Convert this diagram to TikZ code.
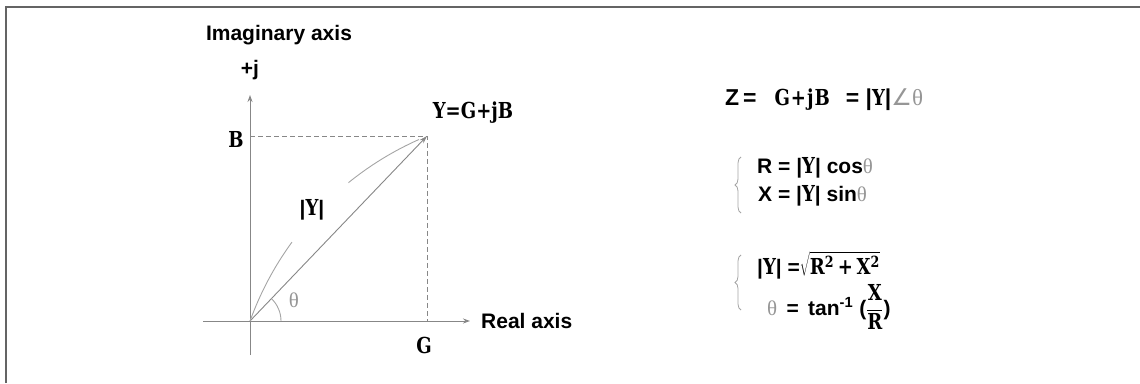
\documentclass[tikz,border=0pt]{standalone}
\usepackage{fontspec}
\setmainfont{Liberation Sans}
\newfontfamily\slabfont[FakeStretch=0.82]{DejaVu Serif}
\newfontfamily\thetafont{Liberation Serif}
\newfontfamily\symfont{DejaVu Sans}
\usepackage{tikz}
\usetikzlibrary{arrows.meta, positioning, calc, decorations.pathreplacing}
\definecolor{myframe}{RGB}{100,100,100}
\definecolor{myaxis}{RGB}{135,135,135}
\definecolor{mycurve}{RGB}{165,165,165}
\definecolor{mytheta}{RGB}{150,150,150}
\newcommand{\thet}{{\thetafont\mdseries\color{mytheta}θ}}
\newcommand{\slab}[1]{{\fontsize{22}{26}\slabfont\bfseries #1}}
\tikzset{
  axis/.style={-{Stealth[length=7pt,width=5pt]}, color=myaxis, line width=0.9pt},
  vector/.style={-{Stealth[length=8pt,width=5pt]}, color=myaxis, line width=0.9pt},
  guide/.style={dash pattern=on 5pt off 3pt, color=myaxis, line width=0.9pt},
  curve/.style={color=mycurve, line width=0.9pt},
  brc/.style={decorate, decoration={brace, amplitude=6pt}, color=mycurve, line width=0.8pt},
  lbl/.style={font=\fontsize{21}{25}\selectfont\bfseries, inner sep=0pt},
  slablbl/.style={font=\fontsize{22}{26}\slabfont\bfseries, inner sep=0pt},
  frm/.style={color=myframe, line width=2pt}
}

\begin{document}
\begin{tikzpicture}[x=1pt, y=1pt]
  \useasboundingbox (0,0) rectangle (1140,383);
  % frame
  \draw[frm] (6,0) -- (6,375.5) -- (1140,375.5);
  % axes
  \coordinate (O) at (250,62);
  \coordinate (P) at (427,247);
  \coordinate (B) at (250,247);
  \coordinate (G) at (427,62);
  \coordinate (ybot) at (250,28);
  \coordinate (ytop) at (250,288);
  \coordinate (xleft) at (203,62);
  \coordinate (xright) at (470,62);
  \draw[axis] (ybot) -- (ytop);
  \draw[axis] (xleft) -- (xright);
  \node[lbl, above=15pt of ytop] (plusj) {+j};
  \node[lbl] (imag) at (279,348) {Imaginary axis};
  \node[lbl, right=11pt of xright] (real) {Real axis};
  % phasor and projections
  \draw[guide] (B) -- (P) -- (G);
  \draw[vector] (O) -- (P);
  \node[slablbl] (Blbl) at (236,244) {B};
  \node[slablbl] (Glbl) at (424,38) {G};
  \node[slablbl] (Ylbl) at (473,270) {Y=G+jB};
  % magnitude arc, broken for the label
  \coordinate (C) at (547.5,-45.5);
  \draw[curve] ($(C)+(160.13:316.3)$) arc[start angle=160.13, end angle=143.9, radius=316.3];
  \draw[curve] ($(C)+(129:316.3)$) arc[start angle=129, end angle=114, radius=316.3];
  \node[lbl] (mag) at (312,173) {|\slab{Y}|};
  % angle
  \draw[curve] ($(O)+(31,0)$) arc[start angle=0, end angle=46.3, radius=31];
  \node[inner sep=0pt, font=\fontsize{21}{25}\selectfont] (th) at (294,83) {\thet};
  % formulas
  \node[lbl, anchor=base west, font=\fontsize{23}{27}\selectfont\bfseries] (zeq) at (725,277)
    {Z\,=\hspace{18pt}\slab{G\hspace{1pt}+\hspace{1pt}j\hspace{1pt}B}\hspace{16pt}=\ |\slab{Y}|{\symfont\mdseries\color{mytheta}∠}\thet};
  \draw[brc] (741,170) -- (741,226);
  \node[lbl, anchor=base west] (req) at (757,209) {R = |\slab{Y}| cos\thet};
  \node[lbl, anchor=base west] (xeq) at (758,181) {X = |\slab{Y}| sin\thet};
  \draw[brc] (741,73) -- (741,128);
  \node[lbl, anchor=base west] (meq) at (757,108)
    {|\slab{Y}| =$\displaystyle\sqrt{\mbox{\slab{R\textsuperscript{2}\,+\,X\textsuperscript{2}}}}$};
  \node[lbl, anchor=base west] (teq) at (767,68)
    {\thet\ \,=\ \,tan\textsuperscript{-1}\hspace{6pt}($\displaystyle\frac{\mbox{\slab{X}}}{\mbox{\slab{R}}}$)};
\end{tikzpicture}
\end{document}
